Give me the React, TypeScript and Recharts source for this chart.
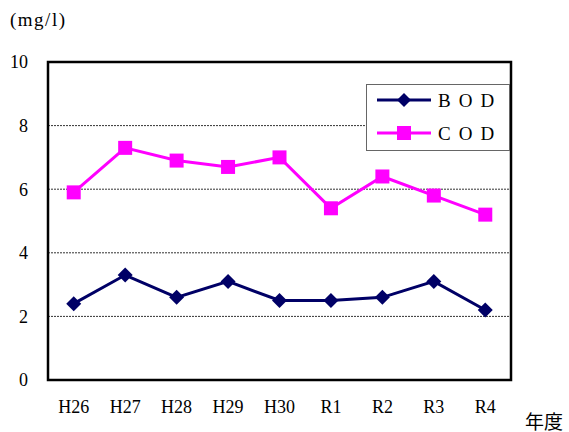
import React from 'react';
import {
  LineChart,
  Line,
  XAxis,
  YAxis,
  CartesianGrid,
  ReferenceArea,
} from 'recharts';

const years = ['H26', 'H27', 'H28', 'H29', 'H30', 'R1', 'R2', 'R3', 'R4'];
const bod = [2.4, 3.3, 2.6, 3.1, 2.5, 2.5, 2.6, 3.1, 2.2];
const cod = [5.9, 7.3, 6.9, 6.7, 7.0, 5.4, 6.4, 5.8, 5.2];
const yTicks = [0, 2, 4, 6, 8, 10];

const BOD_COLOR = '#000066';
const COD_COLOR = '#ff00ff';
const FONT = 'Liberation Serif, Noto Sans CJK JP, serif';

const data = years.map((year, i) => ({ x: i, year, bod: bod[i], cod: cod[i] }));
const labelTicks = years.map((_, i) => i);
const boundaryTicks = years.slice(1).map((_, i) => i + 0.5);

const Diamond = (props: any) => {
  const { cx, cy } = props;
  if (cx == null || cy == null) return null;
  const r = 7.5;
  return (
    <path
      d={`M${cx},${cy - r}L${cx + r},${cy}L${cx},${cy + r}L${cx - r},${cy}Z`}
      fill={BOD_COLOR}
    />
  );
};

const Square = (props: any) => {
  const { cx, cy } = props;
  if (cx == null || cy == null) return null;
  const s = 14;
  return <rect x={cx - s / 2} y={cy - s / 2} width={s} height={s} fill={COD_COLOR} />;
};

const BoundaryTick = (props: any) => {
  const { x, y } = props;
  return <line x1={x} y1={y} x2={x} y2={y - 5} stroke="#000" strokeWidth={1} />;
};

const LegendBox = () => (
  <svg width={144} height={67} style={{ display: 'block' }}>
    <rect x={0.5} y={0.5} width={143} height={66} fill="#fff" stroke="#666" />
    <line x1={11} y1={16} x2={65} y2={16} stroke={BOD_COLOR} strokeWidth={3} />
    <path d="M38,9L45,16L38,23L31,16Z" fill={BOD_COLOR} />
    <text x={72} y={23} fontSize={19} fontFamily={FONT} letterSpacing={8} fill="#000">
      BOD
    </text>
    <line x1={11} y1={49} x2={65} y2={49} stroke={COD_COLOR} strokeWidth={3} />
    <rect x={31} y={42} width={14} height={14} fill={COD_COLOR} />
    <text x={72} y={56} fontSize={19} fontFamily={FONT} letterSpacing={8} fill="#000">
      COD
    </text>
  </svg>
);

const App = () => {
  return (
    <div style={{ position: 'absolute', left: 0, top: 0, width: 569, height: 432, background: '#fff' }}>
      <div style={{ position: 'absolute', left: 10, top: 9, fontSize: 19, letterSpacing: 1.5, fontFamily: FONT, lineHeight: '22px' }}>
        (mg/l)
      </div>
      <div style={{ position: 'absolute', left: 525, top: 412, fontSize: 19, fontFamily: FONT, lineHeight: '22px' }}>
        年度
      </div>
      <LineChart
        width={569}
        height={432}
        data={data}
        margin={{ top: 62, right: 58, left: 8, bottom: 22 }}
      >
        <CartesianGrid
          horizontal
          vertical={false}
          stroke="#333"
          strokeDasharray="2 1"
        />
        <XAxis
          dataKey="x"
          type="number"
          domain={[-0.5, 8.5]}
          ticks={labelTicks}
          tickFormatter={(v: number) => years[v]}
          tick={{ fontSize: 18, fill: '#000', fontFamily: FONT }}
          tickLine={false}
          tickMargin={14}
          height={30}
          axisLine={false}
          interval={0}
        />
        <XAxis
          xAxisId="bnd"
          dataKey="x"
          type="number"
          domain={[-0.5, 8.5]}
          ticks={boundaryTicks}
          tick={<BoundaryTick />}
          tickLine={false}
          tickSize={0}
          tickMargin={0}
          axisLine={false}
          height={0}
          interval={0}
        />
        <YAxis
          domain={[0, 10]}
          ticks={yTicks}
          width={40}
          tick={{ fontSize: 18, fill: '#000', fontFamily: FONT }}
          tickLine={false}
          tickMargin={14}
          axisLine={false}
        />
        <ReferenceArea
          x1={-0.5}
          x2={8.5}
          y1={0}
          y2={10}
          fill="none"
          fillOpacity={0}
          stroke="#000"
          strokeWidth={2.5}
        />
        <Line
          dataKey="bod"
          stroke={BOD_COLOR}
          strokeWidth={3}
          dot={<Diamond />}
          activeDot={false}
          isAnimationActive={false}
        />
        <Line
          dataKey="cod"
          stroke={COD_COLOR}
          strokeWidth={3}
          dot={<Square />}
          activeDot={false}
          isAnimationActive={false}
        />
      </LineChart>
      <div style={{ position: 'absolute', left: 366, top: 84 }}>
        <LegendBox />
      </div>
    </div>
  );
};

export default App;
